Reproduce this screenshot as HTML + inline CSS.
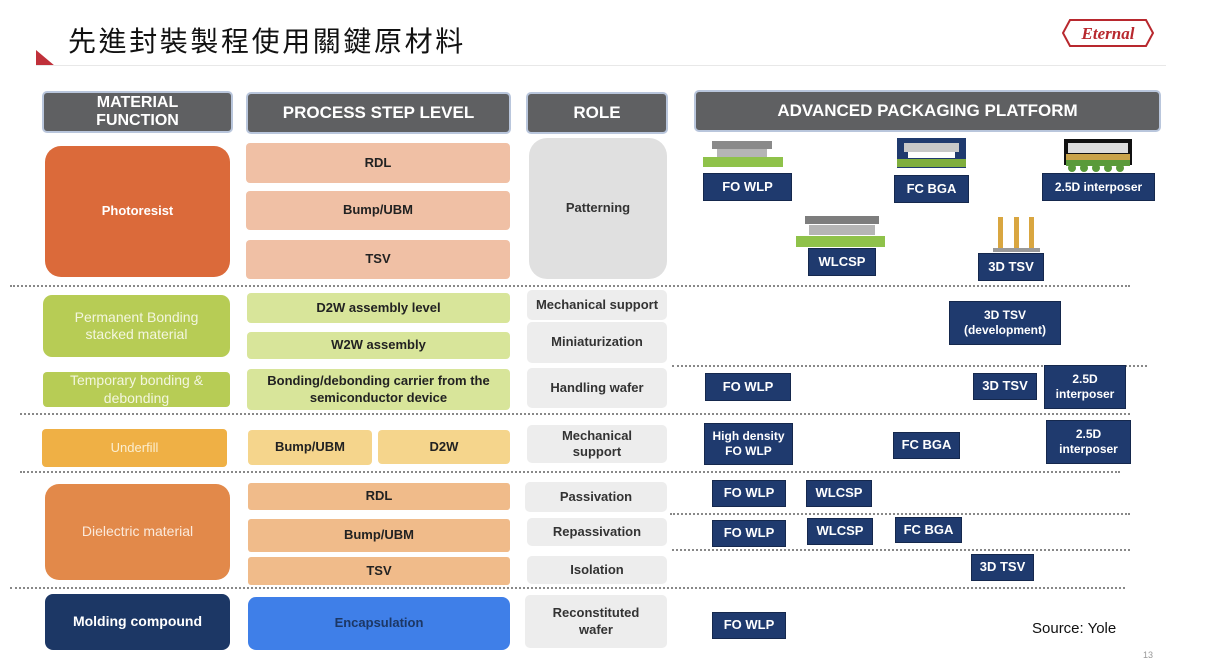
<!DOCTYPE html>
<html><head><meta charset="utf-8"><style>
body{margin:0;width:1206px;height:669px;background:#fff;position:relative;overflow:hidden;font-family:"Liberation Sans","Noto Sans CJK TC",sans-serif;}
.b{position:absolute;display:flex;align-items:center;justify-content:center;text-align:center;font-weight:bold;box-sizing:border-box;line-height:1.25}
.h{background:#5f6062;color:#fff;border:2px solid #b9c6dc;border-radius:5px;font-size:17px}
.w{color:#fff;font-size:13px}
.k{color:#222;font-size:13px}
.r{background:#ededed;border-radius:5px;color:#333;font-size:13px}
.n{background:#1f3a6e;color:#fff;font-size:13px;border:1px solid #15284d}
.d{position:absolute;height:0;border-top:2px dotted #888}
</style></head><body>
<div style="position:absolute;left:68px;top:20px;font-size:28px;letter-spacing:2.6px;color:#111;font-family:'Noto Sans CJK TC',sans-serif;white-space:nowrap">先進封裝製程使用關鍵原材料</div>
<svg style="position:absolute;left:36px;top:50px" width="20" height="16"><polygon points="0,0 0,16 19,16" fill="#c0303a"/></svg>
<div style="position:absolute;left:36px;top:65px;width:1130px;height:1px;background:#e8e8e8"></div>
<svg style="position:absolute;left:1062px;top:18px" width="92" height="30"><polygon points="8,2 84,2 91,15 84,28 8,28 1,15" fill="none" stroke="#b8282e" stroke-width="2"/><text x="46" y="21" text-anchor="middle" font-family="Liberation Serif" font-style="italic" font-weight="bold" font-size="17" fill="#b8282e">Eternal</text></svg>

<div class="b h" style="left:42px;top:91px;width:191px;height:42px;font-size:16px;line-height:1.1">MATERIAL<br>FUNCTION</div>
<div class="b h" style="left:246px;top:92px;width:265px;height:42px">PROCESS STEP LEVEL</div>
<div class="b h" style="left:526px;top:92px;width:142px;height:42px">ROLE</div>
<div class="b h" style="left:694px;top:90px;width:467px;height:42px">ADVANCED PACKAGING PLATFORM</div>

<div class="b w" style="left:45px;top:146px;width:185px;height:131px;background:#db6a3a;border-radius:16px">Photoresist</div>
<div class="b k" style="left:246px;top:143px;width:264px;height:40px;background:#f0c0a5;border-radius:4px">RDL</div>
<div class="b k" style="left:246px;top:191px;width:264px;height:39px;background:#f0c0a5;border-radius:4px">Bump/UBM</div>
<div class="b k" style="left:246px;top:240px;width:264px;height:39px;background:#f0c0a5;border-radius:4px">TSV</div>
<div class="b r" style="left:529px;top:138px;width:138px;height:141px;background:#e0e0e0;border-radius:18px">Patterning</div>
<div class="d" style="left:10px;top:285px;width:1120px"></div>

<div class="b w" style="left:43px;top:295px;width:187px;height:62px;background:#b7cc55;border-radius:9px;font-weight:normal;font-size:14px;color:#f3f6df">Permanent Bonding<br>stacked material</div>
<div class="b k" style="left:247px;top:293px;width:263px;height:30px;background:#d8e59a;border-radius:4px">D2W assembly level</div>
<div class="b k" style="left:247px;top:332px;width:263px;height:27px;background:#d8e59a;border-radius:4px">W2W assembly</div>
<div class="b w" style="left:43px;top:372px;width:187px;height:35px;background:#b7cc55;border-radius:4px;font-weight:normal;font-size:14px;color:#f3f6df">Temporary bonding &amp;<br>debonding</div>
<div class="b k" style="left:247px;top:369px;width:263px;height:41px;background:#d8e59a;border-radius:4px">Bonding/debonding carrier from the<br>semiconductor device</div>
<div class="b r" style="left:527px;top:290px;width:140px;height:30px">Mechanical support</div>
<div class="b r" style="left:527px;top:322px;width:140px;height:41px">Miniaturization</div>
<div class="b r" style="left:527px;top:368px;width:140px;height:40px">Handling wafer</div>
<div class="d" style="left:20px;top:413px;width:1110px"></div>

<div class="b w" style="left:42px;top:429px;width:185px;height:38px;background:#efb045;border-radius:4px;font-weight:normal;color:#fbeed0">Underfill</div>
<div class="b k" style="left:248px;top:430px;width:124px;height:35px;background:#f5d58c;border-radius:4px">Bump/UBM</div>
<div class="b k" style="left:378px;top:430px;width:132px;height:34px;background:#f5d58c;border-radius:4px">D2W</div>
<div class="b r" style="left:527px;top:425px;width:140px;height:38px">Mechanical<br>support</div>
<div class="d" style="left:20px;top:471px;width:1100px"></div>

<div class="b w" style="left:45px;top:484px;width:185px;height:96px;background:#e2894a;border-radius:14px;font-weight:normal;font-size:14px;color:#fbeadc">Dielectric material</div>
<div class="b k" style="left:248px;top:483px;width:262px;height:27px;background:#f0bb8a;border-radius:3px">RDL</div>
<div class="b k" style="left:248px;top:519px;width:262px;height:33px;background:#f0bb8a;border-radius:3px">Bump/UBM</div>
<div class="b k" style="left:248px;top:557px;width:262px;height:28px;background:#f0bb8a;border-radius:3px">TSV</div>
<div class="b r" style="left:525px;top:482px;width:142px;height:30px">Passivation</div>
<div class="b r" style="left:527px;top:518px;width:140px;height:28px">Repassivation</div>
<div class="b r" style="left:527px;top:556px;width:140px;height:28px">Isolation</div>
<div class="d" style="left:10px;top:587px;width:1115px"></div>

<div class="b w" style="left:45px;top:594px;width:185px;height:56px;background:#1c3765;border-radius:8px;font-size:14px">Molding compound</div>
<div class="b" style="left:248px;top:597px;width:262px;height:53px;background:#3f7fe8;border-radius:8px;color:#1c3765;font-size:13px">Encapsulation</div>
<div class="b r" style="left:525px;top:595px;width:142px;height:53px">Reconstituted<br>wafer</div>

<svg style="position:absolute;left:700px;top:138px" width="90" height="32">
<rect x="12" y="3" width="60" height="8" fill="#8a8a8a"/><rect x="17" y="11" width="50" height="8" fill="#b5b5b5"/><rect x="3" y="19" width="80" height="10" fill="#8fc24a"/>
</svg>
<svg style="position:absolute;left:795px;top:214px" width="95" height="36"><rect x="10" y="2" width="74" height="8" fill="#7d7d7d"/><rect x="14" y="11" width="66" height="10" fill="#b5b5b5"/><rect x="1" y="22" width="89" height="11" fill="#8fc24a"/></svg>
<svg style="position:absolute;left:896px;top:137px" width="72" height="32"><rect x="1" y="1" width="69" height="30" fill="#1f3a6e"/><rect x="8" y="6" width="55" height="9" fill="#c8c8c8"/><rect x="12" y="15" width="47" height="6" fill="#fff"/><rect x="1" y="22" width="69" height="8" fill="#7fae3c"/></svg>
<svg style="position:absolute;left:1064px;top:139px" width="68" height="34"><rect x="0" y="0" width="68" height="26" fill="#111"/><rect x="4" y="4" width="60" height="10" fill="#ddd"/><rect x="2" y="15" width="64" height="6" fill="#c9a34a"/><rect x="2" y="21" width="64" height="6" fill="#5a9a3a"/><g fill="#5a9a3a"><circle cx="8" cy="29" r="4"/><circle cx="20" cy="29" r="4"/><circle cx="32" cy="29" r="4"/><circle cx="44" cy="29" r="4"/><circle cx="56" cy="29" r="4"/></g></svg>
<svg style="position:absolute;left:992px;top:215px" width="50" height="38"><g fill="#d9a640"><rect x="6" y="2" width="5" height="32"/><rect x="22" y="2" width="5" height="32"/><rect x="37" y="2" width="5" height="32"/></g><rect x="1" y="33" width="47" height="4" fill="#999"/></svg>

<div class="b n" style="left:703px;top:173px;width:89px;height:28px">FO WLP</div>
<div class="b n" style="left:894px;top:175px;width:75px;height:28px">FC BGA</div>
<div class="b n" style="left:1042px;top:173px;width:113px;height:28px;font-size:12px">2.5D interposer</div>
<div class="b n" style="left:808px;top:248px;width:68px;height:28px">WLCSP</div>
<div class="b n" style="left:978px;top:253px;width:66px;height:28px">3D TSV</div>

<div class="b n" style="left:949px;top:301px;width:112px;height:44px;font-size:12px">3D TSV<br>(development)</div>
<div class="d" style="left:672px;top:365px;width:475px"></div>
<div class="b n" style="left:705px;top:373px;width:86px;height:28px">FO WLP</div>
<div class="b n" style="left:973px;top:373px;width:64px;height:27px">3D TSV</div>
<div class="b n" style="left:1044px;top:365px;width:82px;height:44px;font-size:12px">2.5D<br>interposer</div>
<div class="b n" style="left:704px;top:423px;width:89px;height:42px;font-size:12px">High density<br>FO WLP</div>
<div class="b n" style="left:893px;top:432px;width:67px;height:27px">FC BGA</div>
<div class="b n" style="left:1046px;top:420px;width:85px;height:44px;font-size:12px">2.5D<br>interposer</div>
<div class="b n" style="left:712px;top:480px;width:74px;height:27px">FO WLP</div>
<div class="b n" style="left:806px;top:480px;width:66px;height:27px">WLCSP</div>
<div class="d" style="left:670px;top:513px;width:460px"></div>
<div class="b n" style="left:712px;top:520px;width:74px;height:27px">FO WLP</div>
<div class="b n" style="left:807px;top:518px;width:66px;height:27px">WLCSP</div>
<div class="b n" style="left:895px;top:517px;width:67px;height:26px">FC BGA</div>
<div class="d" style="left:672px;top:549px;width:458px"></div>
<div class="b n" style="left:971px;top:554px;width:63px;height:27px">3D TSV</div>
<div class="b n" style="left:712px;top:612px;width:74px;height:27px">FO WLP</div>
<div style="position:absolute;left:1032px;top:620px;font-size:15px;color:#111">Source: Yole</div>
<div style="position:absolute;left:1143px;top:650px;font-size:9px;color:#999">13</div>
</body></html>
